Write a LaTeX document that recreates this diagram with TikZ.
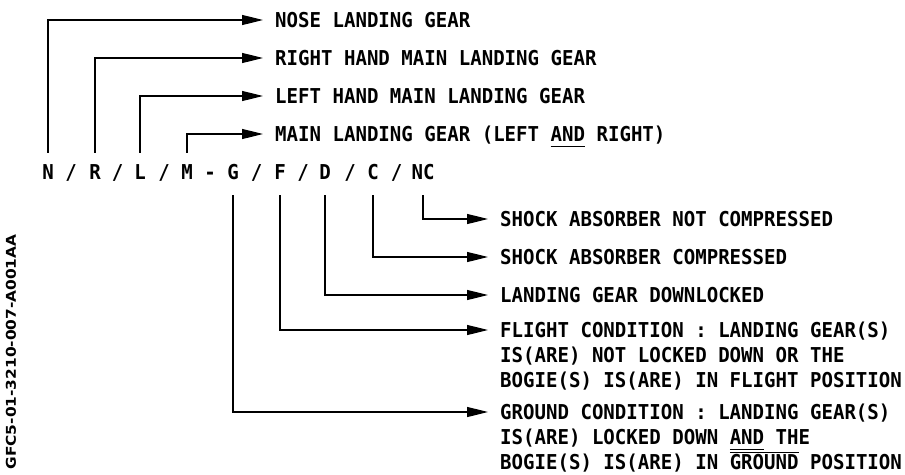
\documentclass[tikz,border=0pt]{standalone}
\usepackage{fontspec}
\newfontfamily\mfont[FakeStretch=0.93]{DejaVu Sans Mono}
\newfontfamily\cfont[FakeStretch=1.14]{DejaVu Sans}
\usetikzlibrary{arrows.meta}
\newcommand\myund[1]{\setbox0=\hbox{#1}\rlap{\raisebox{-5.6pt}[0pt][0pt]{\rule{\wd0}{1.2pt}}}\box0\relax}
\newcommand\myover[1]{\setbox0=\hbox{#1}\rlap{\raisebox{16.6pt}[0pt][0pt]{\rule{\wd0}{1.2pt}}}\box0\relax}
\begin{document}
\begin{tikzpicture}[x=1pt,y=-1pt,
  lbl/.style={font=\mfont\bfseries\fontsize{20.5}{24}\selectfont, inner sep=0pt,
    text height=15pt, text depth=0pt, anchor=west},
  let/.style={font=\mfont\bfseries\fontsize{20.5}{24}\selectfont, inner sep=0pt,
    text height=15pt, text depth=0pt, anchor=center},
  con/.style={line width=1.2pt, -{Triangle[length=21pt,width=10pt]}, shorten >=12pt},
  up/.style={con, shorten <=11.5pt},
  down/.style={con, shorten <=15.5pt},
  code/.style={font=\cfont\bfseries\fontsize{13.5}{16}\selectfont, inner sep=0pt, rotate=90}
]
\useasboundingbox (0,0) rectangle (905,474);

% code row
\node[let] (N) at (48,172) {N};
\node[let] (s1) at (71,172) {/};
\node[let] (R) at (95,172) {R};
\node[let] (s2) at (117.5,172) {/};
\node[let] (L) at (140,172) {L};
\node[let] (s3) at (164,172) {/};
\node[let] (M) at (187,172) {M};
\node[let] (dash) at (210,172) {-};
\node[let] (G) at (233,172) {G};
\node[let] (s4) at (256.5,172) {/};
\node[let] (F) at (280,172) {F};
\node[let] (s5) at (303,172) {/};
\node[let] (D) at (325,172) {D};
\node[let] (s6) at (350,172) {/};
\node[let] (C) at (373,172) {C};
\node[let] (s7) at (396.5,172) {/};
\node[let] (NC) at (423,172) {NC};

% top labels
\node[lbl] (nose) at (275,20) {NOSE LANDING GEAR};
\node[lbl] (rh) at (275,58) {RIGHT HAND MAIN LANDING GEAR};
\node[lbl] (lh) at (275,96) {LEFT HAND MAIN LANDING GEAR};
\node[lbl] (main) at (275,134) {MAIN LANDING GEAR (LEFT \myund{AND} RIGHT)};

% bottom labels
\node[lbl] (snc) at (500,219) {SHOCK ABSORBER NOT COMPRESSED};
\node[lbl] (sc) at (500,257) {SHOCK ABSORBER COMPRESSED};
\node[lbl] (dl) at (500,295) {LANDING GEAR DOWNLOCKED};
\node[lbl] (fl1) at (500,330) {FLIGHT CONDITION : LANDING GEAR(S)};
\node[lbl] (fl2) at (500,355) {IS(ARE) NOT LOCKED DOWN OR THE};
\node[lbl] (fl3) at (500,380) {BOGIE(S) IS(ARE) IN FLIGHT POSITION};
\node[lbl] (gr1) at (500,412) {GROUND CONDITION : LANDING GEAR(S)};
\node[lbl] (gr2) at (500,437) {IS(ARE) LOCKED DOWN \myund{AND} THE};
\node[lbl] (gr3) at (500,462) {BOGIE(S) IS(ARE) IN \myover{GROUND} POSITION};

% reference code
\node[code] (ref) at (11,352) {GFC5-01-3210-007-A001AA};

% connectors
\draw[up] (N) |- (nose);
\draw[up] (R) |- (rh);
\draw[up] (L) |- (lh);
\draw[up] (M) |- (main);
\draw[down] (NC) |- (snc);
\draw[down] (C) |- (sc);
\draw[down] (D) |- (dl);
\draw[down] (F) |- (fl1);
\draw[down] (G) |- (gr1);
\end{tikzpicture}
\end{document}
